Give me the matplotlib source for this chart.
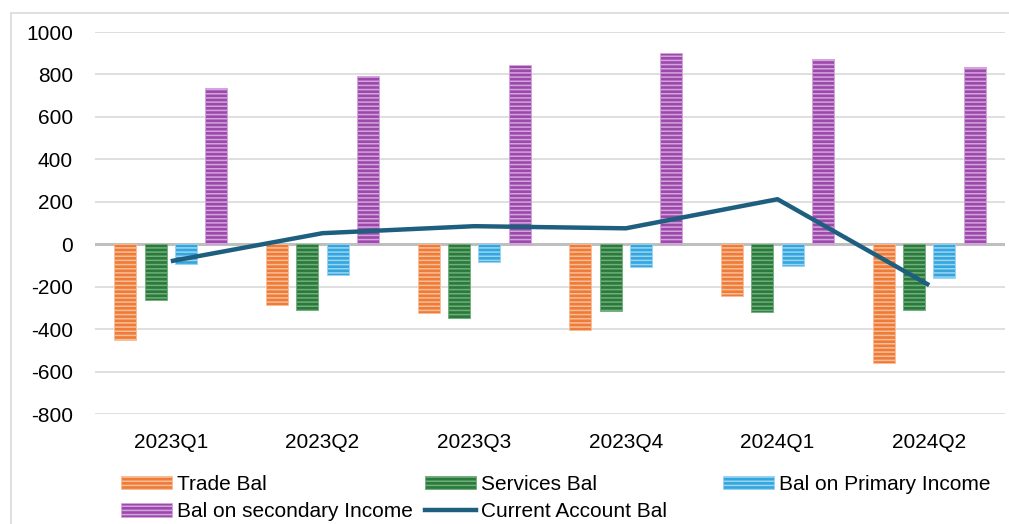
import numpy as np
import matplotlib
matplotlib.use('Agg')
import matplotlib.pyplot as plt
from matplotlib.patches import Rectangle, Patch
from matplotlib.lines import Line2D

plt.rcParams['font.family'] = ['Liberation Sans', 'DejaVu Sans']
plt.rcParams['axes.unicode_minus'] = False
plt.rcParams['hatch.linewidth'] = 1.1

# quarterly balances
quarters = ['2023Q1', '2023Q2', '2023Q3', '2023Q4', '2024Q1', '2024Q2']
trade_bal = [-452, -288, -325, -405, -245, -562]
services_bal = [-265, -311, -349, -316, -320, -308]
primary_income = [-94, -146, -85, -108, -103, -161]
secondary_income = [736, 792, 844, 900, 873, 835]
current_account = [-80, 52, 85, 75, 212, -193]

series = [
    ('Trade Bal', trade_bal, '#EE7B38', '#F9BE98'),
    ('Services Bal', services_bal, '#2B7A3C', '#6FAF7C'),
    ('Bal on Primary Income', primary_income, '#34A6DE', '#9AD4F2'),
    ('Bal on secondary Income', secondary_income, '#9B4AAA', '#D5A3DE'),
]
line_color = '#1E5F80'

W, H = 1009, 524
fig = plt.figure(figsize=(W / 100, H / 100), dpi=100)
ax = fig.add_axes([95 / W, 1 - 414 / H, (1005 - 95) / W, (414 - 32) / H])

# outer chart border (partly outside the image)
fig.patches.append(Rectangle((11 / W, -0.2), 1.2, 1.2 - 13 / H, transform=fig.transFigure,
                             fill=False, edgecolor='#D9D9D9', linewidth=1.2, zorder=0))

x = np.arange(len(quarters))
width = 0.145
step = 0.2
handles = {}
for i, (name, vals, col, light) in enumerate(series):
    offs = (i - 1.5) * step
    ax.bar(x + offs, vals, width, facecolor=col, edgecolor=light, linewidth=0.6,
           hatch='----', zorder=3)
    handles[name] = Patch(facecolor=col, edgecolor=light, linewidth=0.6, hatch='----')

ax.plot(x, current_account, color=line_color, linewidth=3.2, zorder=5,
        solid_capstyle='butt')
handles['Current Account Bal'] = Line2D([], [], color=line_color, linewidth=3.2)

ax.set_xlim(-0.5, len(quarters) - 0.5)
ax.set_ylim(-800, 1000)
ax.set_yticks(np.arange(-800, 1001, 200))
ax.set_xticks(x)
ax.set_xticklabels(quarters)
ax.grid(axis='y', color='#D9D9D9', linewidth=1.2, zorder=0)
ax.axhline(0, color='#BFBFBF', linewidth=2.2, zorder=2)
for s in ax.spines.values():
    s.set_visible(False)
ax.tick_params(axis='y', length=0, pad=16, labelsize=15)
ax.tick_params(axis='x', length=0, pad=14, labelsize=15)

leg_kw = dict(frameon=False, fontsize=15, handleheight=0.6, borderpad=0,
              borderaxespad=0, labelspacing=0.4, loc='upper left',
              handlelength=2.45, handletextpad=0.25)
top = 1 - 475 / H
fig.legend([handles['Trade Bal'], handles['Bal on secondary Income']],
           ['Trade Bal', 'Bal on secondary Income'],
           bbox_to_anchor=(121 / W, top), **leg_kw)
fig.legend([handles['Services Bal'], handles['Current Account Bal']],
           ['Services Bal', 'Current Account Bal'],
           bbox_to_anchor=(425 / W, top), **leg_kw)
fig.legend([handles['Bal on Primary Income']], ['Bal on Primary Income'],
           bbox_to_anchor=(723 / W, top), **leg_kw)

fig.savefig('out.png', dpi=100)
